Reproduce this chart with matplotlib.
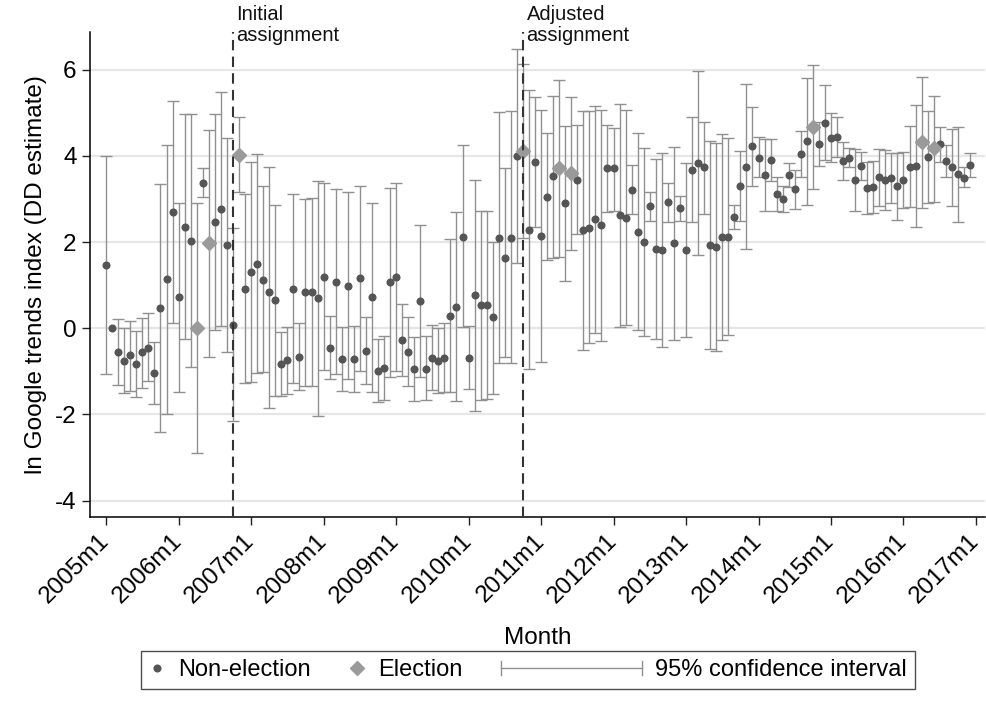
import numpy as np
import matplotlib
matplotlib.use("Agg")
import matplotlib.pyplot as plt
from matplotlib.lines import Line2D
from matplotlib.legend_handler import HandlerBase
from matplotlib.transforms import blended_transform_factory

plt.rcParams["font.family"] = ["Liberation Sans", "DejaVu Sans"]
plt.rcParams["axes.unicode_minus"] = False

# monthly DD estimates, 2005m1 .. 2016m12 (index 0 = 2005m1)
est = [1.47, 0.00, -0.54, -0.75, -0.63, -0.82, -0.56, -0.45, -1.03, 0.48, 1.14, 2.69,
       0.73, 2.36, 2.02, 0.00, 3.38, 1.97, 2.47, 2.76, 1.93, 0.08, 4.02, 0.92,
       1.30, 1.49, 1.13, 0.85, 0.66, -0.82, -0.74, 0.92, -0.67, 0.83, 0.83, 0.70,
       1.20, -0.45, 1.08, -0.72, 0.99, -0.72, 1.17, -0.53, 0.72, -0.98, -0.93, 1.07,
       1.19, -0.27, -0.54, -0.94, 0.64, -0.94, -0.68, -0.76, -0.68, 0.29, 0.50, 2.12,
       -0.68, 0.76, 0.54, 0.54, 0.25, 2.09, 1.64, 2.10, 4.00, 4.12, 2.29, 3.85,
       2.15, 3.05, 3.53, 3.71, 2.90, 3.59, 3.45, 2.28, 2.33, 2.53, 2.39, 3.72,
       3.71, 2.62, 2.56, 3.21, 2.23, 2.01, 2.83, 1.84, 1.81, 2.93, 1.97, 2.78,
       1.81, 3.68, 3.83, 3.73, 1.93, 1.89, 2.12, 2.12, 2.59, 3.30, 3.75, 4.23,
       3.96, 3.55, 3.90, 3.12, 3.00, 3.55, 3.22, 4.05, 4.35, 4.66, 4.27, 4.77,
       4.42, 4.44, 3.88, 3.95, 3.44, 3.77, 3.26, 3.27, 3.51, 3.44, 3.48, 3.29,
       3.44, 3.75, 3.76, 4.31, 3.97, 4.17, 4.27, 3.88, 3.74, 3.57, 3.49, 3.79]
ci_lo = [-1.07, np.nan, -1.32, -1.51, -1.45, -1.59, -1.38, -1.22, -1.76, -2.40, -2.00, 0.12,
         -1.47, -0.24, -0.91, -2.90, 3.05, -0.66, -0.04, 0.06, -0.56, -2.16, 3.15, -1.28,
         -1.25, -1.04, -1.02, -1.84, -1.56, -1.58, -1.52, -1.26, -1.44, -1.35, -1.35, -2.03,
         -0.97, -1.18, -1.07, -1.45, -1.18, -1.47, -0.99, -1.30, -1.48, -1.70, -1.66, -1.12,
         -1.00, -1.10, -1.34, -1.68, -1.14, -1.66, -1.43, -1.49, -1.48, -1.48, -1.69, 0.04,
         -1.41, -1.91, -1.66, -1.65, -1.52, -0.81, -0.66, -0.81, 1.52, 2.09, -0.95, 2.35,
         -0.78, 1.58, 1.62, 1.66, 1.10, 1.81, 2.19, -0.50, -0.35, -0.12, -0.29, 2.70,
         2.73, 0.04, 0.08, 2.64, -0.05, -0.17, 2.48, -0.24, -0.44, 2.47, -0.27, 2.49,
         -0.21, 2.46, 1.70, 2.66, -0.49, -0.53, -0.27, -0.16, 2.31, 2.49, 1.83, 3.31,
         3.50, 2.73, 3.42, 2.72, 2.70, 3.28, 2.76, 3.51, 2.87, 3.22, 3.76, 3.90,
         3.85, 3.98, 3.44, 3.73, 2.73, 3.45, 2.66, 2.68, 2.84, 2.75, 2.90, 2.51,
         2.80, 2.81, 2.35, 2.78, 2.91, 2.93, 3.85, 3.51, 2.84, 2.46, 3.27, 3.51]
ci_hi = [4.00, np.nan, 0.22, 0.00, 0.17, -0.06, 0.24, 0.35, -0.32, 3.35, 4.26, 5.27,
         2.90, 4.97, 4.96, 2.90, 3.71, 4.61, 4.98, 5.48, 4.42, 2.32, 4.89, 3.11,
         3.86, 4.05, 3.30, 3.73, 2.85, -0.08, 0.04, 3.11, 0.12, 3.00, 3.01, 3.42,
         3.37, 0.29, 3.24, 0.04, 3.17, 0.05, 3.31, 0.27, 2.90, -0.26, -0.19, 3.26,
         3.36, 0.56, 0.27, -0.21, 2.39, -0.19, 0.08, 0.00, 0.13, 2.06, 2.70, 4.25,
         0.05, 3.44, 2.73, 2.73, 2.00, 5.01, 3.72, 5.04, 6.48, 6.12, 5.52, 5.37,
         5.06, 4.53, 5.39, 5.75, 4.69, 5.37, 4.71, 5.04, 5.03, 5.15, 5.06, 4.71,
         4.65, 5.20, 5.06, 3.79, 4.52, 4.19, 3.17, 3.92, 4.07, 3.37, 4.21, 3.07,
         3.84, 4.89, 5.97, 4.79, 4.34, 4.30, 4.50, 4.42, 2.87, 4.11, 5.66, 5.14,
         4.44, 4.39, 4.39, 3.51, 3.31, 3.84, 3.67, 4.58, 5.81, 6.10, 4.79, 5.64,
         5.00, 4.89, 4.33, 4.17, 4.16, 4.08, 3.86, 3.87, 4.16, 4.14, 4.07, 4.07,
         4.09, 4.70, 5.17, 5.83, 5.03, 5.38, 4.67, 4.26, 4.63, 4.67, 3.73, 4.07]
election_months = [15, 17, 22, 69, 75, 77, 117, 135, 137]
assign_months = [21, 69]          # 2006m10, 2010m10
assign_labels = ["Initial\nassignment", "Adjusted\nassignment"]
tick_labels = [f"{y}m1" for y in range(2005, 2018)]

PT_COL, EL_COL, CI_COL = "#555555", "#9a9a9a", "#909090"
FS = 17.5


class HCapHandler(HandlerBase):
    """horizontal rcap like Stata's legend key"""
    def legend_artist(self, legend, orig_handle, fontsize, handlebox):
        handlebox.width = 6.0 * fontsize
        w, h = handlebox.width, handlebox.height
        y = h / 2
        lines = [Line2D([0, w], [y, y]), Line2D([0, 0], [y - 0.3 * fontsize, y + 0.3 * fontsize]),
                 Line2D([w, w], [y - 0.3 * fontsize, y + 0.3 * fontsize])]
        for ln in lines:
            ln.set_color(CI_COL); ln.set_linewidth(1.0)
            ln.set_transform(handlebox.get_transform())
            handlebox.add_artist(ln)
        return lines[0]


def main():
    n = len(est)
    x = np.arange(n)
    e = np.array(est); lo = np.array(ci_lo); hi = np.array(ci_hi)
    is_el = np.zeros(n, bool); is_el[election_months] = True

    fig = plt.figure(figsize=(9.87, 7.19), dpi=100)
    ax = fig.add_axes([0.091, 0.2814, 0.907, 0.674])
    ax.set_xlim(-2.7, 145.5); ax.set_ylim(-4.37, 6.87)

    for yv in range(-4, 7, 2):
        ax.axhline(yv, color="#e6e6e6", lw=1.6, zorder=0)

    ok = ~np.isnan(lo)
    ax.errorbar(x[ok], e[ok], yerr=[e[ok] - lo[ok], hi[ok] - e[ok]], fmt="none",
                ecolor=CI_COL, elinewidth=1.0, capsize=4.5, capthick=1.0, zorder=2)
    ax.plot(x[~is_el], e[~is_el], "o", color=PT_COL, ms=4.8, zorder=3)
    ax.plot(x[is_el], e[is_el], "D", color=EL_COL, ms=7, zorder=3)

    tr = blended_transform_factory(ax.transData, fig.transFigure)
    for m, lab in zip(assign_months, assign_labels):
        ax.axvline(m, color="#333333", lw=1.5, ls=(0, (5, 3)), zorder=4)
        ax.text(m + 0.6, 1 - 5 / 719, lab, transform=tr, fontsize=14.5, va="top",
                ha="left", linespacing=1.15, color="#111111")

    ax.set_xticks(range(0, 145, 12))
    ax.set_xticklabels(tick_labels, rotation=45, ha="right", va="center", rotation_mode="anchor")
    ax.set_yticks(range(-4, 7, 2))
    ax.tick_params(axis="both", labelsize=FS, length=6, width=1, color="#222222")
    ax.tick_params(axis="x", pad=9)
    for s in ["top", "right"]:
        ax.spines[s].set_visible(False)
    for s in ["left", "bottom"]:
        ax.spines[s].set_linewidth(1.1)
    ax.set_ylabel("ln Google trends index (DD estimate)", fontsize=FS, labelpad=6)
    ax.set_xlabel("Month", fontsize=FS, labelpad=14)

    h1 = Line2D([], [], marker="o", ls="none", color=PT_COL, ms=4.8)
    h2 = Line2D([], [], marker="D", ls="none", color=EL_COL, ms=7)
    h3 = object()
    leg = fig.legend([h1, h2, h3], ["Non-election", "Election", "95% confidence interval"],
                     handler_map={object: HCapHandler()}, loc="center",
                     bbox_to_anchor=(0.535, 0.068), ncol=3, fontsize=FS - 0.5, frameon=True,
                     fancybox=False, edgecolor="#222222", handlelength=0.7,
                     handletextpad=0.55, columnspacing=1.6, borderpad=0.35)
    leg.get_frame().set_linewidth(1.0)

    fig.savefig("out.png", dpi=100, facecolor="white")


if __name__ == "__main__":
    main()
